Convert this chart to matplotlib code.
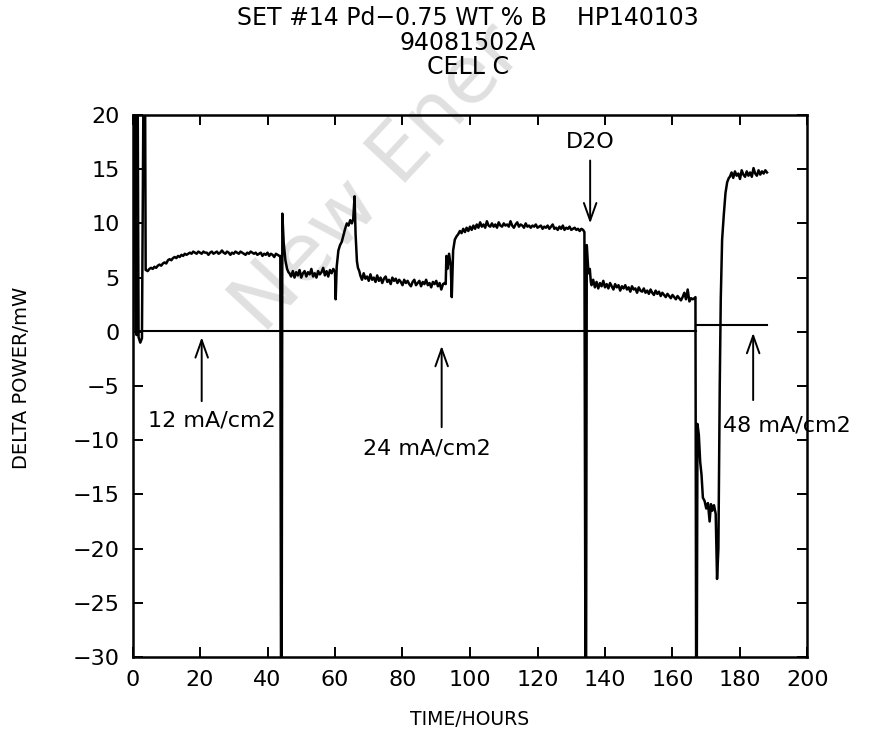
import matplotlib
matplotlib.use("Agg")
import matplotlib.pyplot as plt
import numpy as np

# --- data (hours, mW) ---

# start-up transient
t_start = [0.3, 0.5, 1.0, 1.2, 1.5, 1.8, 2.3, 2.8, 3.3, 3.7, 3.9]
p_start = [0.0, 25.0, 25.0, -0.3, 25.0, -0.5, -1.0, -0.6, 25.0, 25.0, 5.7]

# 12 mA/cm2 plateau, 4 .. 43.5 h every 0.5 h
t_seg1 = np.arange(4.0, 43.51, 0.5)
p_seg1 = [5.7, 5.6, 5.8, 5.9, 5.8, 6.0, 5.9, 6.1, 6.2, 6.1,
          6.3, 6.4, 6.3, 6.6, 6.7, 6.6, 6.8, 6.9, 6.8, 7.0,
          6.9, 7.1, 7.0, 7.2, 7.1, 7.2, 7.3, 7.2, 7.4, 7.3,
          7.2, 7.4, 7.3, 7.2, 7.4, 7.3, 7.3, 7.1, 7.3, 7.4,
          7.2, 7.3, 7.4, 7.2, 7.3, 7.5, 7.3, 7.2, 7.4, 7.3,
          7.1, 7.3, 7.2, 7.4, 7.3, 7.2, 7.4, 7.3, 7.2, 7.1,
          7.3, 7.2, 7.4, 7.3, 7.2, 7.3, 7.1, 7.2, 7.3, 7.0,
          7.2, 7.1, 7.3, 7.0, 7.2, 7.1, 6.9, 7.2, 7.1, 7.0]

# calibration pulse at 44 h
t_pulse1 = [43.8, 44.0, 44.2, 44.4, 44.8, 45.3, 45.8, 46.2]
p_pulse1 = [7.0, -31.0, -31.0, 10.9, 8.2, 6.6, 5.8, 5.5]

t_seg2 = np.arange(46.5, 60.01, 0.5)
p_seg2 = [5.4, 5.1, 5.6, 5.0, 5.5, 5.2, 5.7, 5.0, 5.4, 5.6,
          5.1, 5.5, 5.3, 5.8, 5.1, 5.4, 5.0, 5.6, 5.3, 5.5,
          5.9, 5.2, 5.6, 5.1, 5.7, 5.4, 5.8, 5.5]

# excursion around 60-67 h
t_bump = [60.2, 60.5, 61.0, 61.5, 62.0, 62.5, 63.0, 63.5, 64.0, 64.5,
          65.0, 65.4, 65.8, 66.1, 66.5, 66.8, 67.2]
p_bump = [3.0, 6.0, 7.5, 8.0, 8.3, 8.9, 9.5, 10.0, 9.8, 10.3,
          10.0, 10.4, 12.5, 9.0, 6.5, 5.9, 5.6]

t_seg3 = np.arange(67.5, 92.51, 0.5)
p_seg3 = [5.2, 4.8, 5.4, 4.9, 5.1, 4.7, 5.3, 4.8, 5.0, 4.6,
          5.2, 4.7, 5.0, 4.5, 4.9, 5.1, 4.6, 4.8, 4.4, 5.0,
          4.7, 4.9, 4.5, 4.8, 4.6, 4.3, 4.8, 4.5, 4.7, 4.4,
          4.2, 4.6, 4.8, 4.3, 4.5, 4.7, 4.2, 4.6, 4.4, 4.8,
          4.3, 4.5, 4.1, 4.6, 4.4, 4.7, 4.2, 4.5, 3.9, 4.4,
          4.5]

# switch to 24 mA/cm2
t_step = [92.8, 93.0, 93.3, 93.8, 94.3, 94.6, 95.0, 95.5, 96.0]
p_step = [4.4, 7.0, 5.8, 7.2, 6.0, 3.2, 7.5, 8.5, 8.8]

t_seg4 = np.arange(96.5, 133.51, 0.5)
p_seg4 = [9.0, 9.3, 9.1, 9.5, 9.2, 9.6, 9.3, 9.7, 9.4, 9.8,
          9.5, 9.9, 9.6, 10.1, 9.7, 9.9, 9.6, 10.2, 9.8, 9.7,
          10.0, 9.7, 9.9, 9.6, 10.1, 9.8, 9.7, 10.0, 9.8, 9.9,
          9.7, 10.2, 9.8, 9.6, 9.9, 10.1, 9.7, 9.9, 9.8, 9.6,
          10.0, 9.7, 9.8, 9.6, 9.8, 9.7, 9.9, 9.6, 9.7, 9.8,
          9.5, 9.7, 9.6, 9.8, 9.5, 9.7, 9.9, 9.5, 9.6, 9.4,
          9.7, 9.5, 9.8, 9.4, 9.6, 9.5, 9.7, 9.4, 9.5, 9.6,
          9.4, 9.5, 9.3, 9.5, 9.4]

# D2O addition
t_pulse2 = [133.9, 134.2, 134.4, 134.6, 134.8, 135.1, 135.5, 135.8]
p_pulse2 = [9.2, -31.0, -31.0, 8.0, 7.0, 5.4, 5.8, 4.6]

t_seg5 = np.arange(136.0, 166.51, 0.5)
p_seg5 = [4.3, 4.8, 4.1, 4.6, 4.0, 4.5, 4.2, 4.7, 4.1, 4.4,
          4.0, 4.5, 4.2, 3.9, 4.4, 4.1, 4.3, 3.8, 4.2, 4.0,
          4.3, 3.9, 4.1, 3.7, 4.2, 3.9, 4.0, 3.6, 4.1, 3.8,
          3.7, 4.0, 3.6, 3.8, 3.5, 3.9, 3.6, 3.4, 3.8, 3.5,
          3.7, 3.3, 3.6, 3.4, 3.2, 3.5, 3.3, 3.1, 3.4, 3.2,
          3.0, 3.3, 3.1, 2.9, 3.2, 3.6, 3.0, 3.9, 2.8, 3.1,
          3.0, 3.1]

# 48 mA/cm2: negative excursion and recovery
t_drop = [166.8, 167.0, 167.2, 167.4, 167.8, 168.2, 168.6, 169.0, 169.5, 170.0,
          170.5, 171.0, 171.4, 171.8, 172.3, 172.8, 173.2, 173.6, 174.0, 174.3,
          174.7, 175.2, 175.7, 176.2, 176.7]
p_drop = [3.2, -31.0, -31.0, -8.5, -9.5, -12.0, -13.2, -15.3, -15.6, -16.3,
          -15.8, -17.5, -15.9, -16.5, -16.0, -16.8, -22.8, -20.0, -5.0, 3.0,
          8.5, 10.8, 12.8, 13.8, 14.2]

t_seg6 = np.arange(177.0, 188.01, 0.5)
p_seg6 = [14.3, 14.7, 14.2, 14.8, 14.4, 14.6, 14.1, 14.9, 14.5, 14.3,
          14.8, 14.4, 14.7, 14.3, 15.1, 14.6, 14.4, 14.9, 14.5, 14.8,
          14.6, 14.9, 14.7]

# reference (zero) lines
t_base1 = [1.0, 167.0]
p_base1 = [0.1, 0.1]
t_base2 = [167.0, 188.0]
p_base2 = [0.6, 0.6]

x_ticks = np.arange(0, 201, 20)
y_ticks = np.arange(-30, 21, 5)

title_lines = ["SET #14 Pd\u22120.75 WT % B    HP140103", "94081502A", "CELL C"]

time = np.concatenate([t_start, t_seg1, t_pulse1, t_seg2, t_bump, t_seg3, t_step,
                       t_seg4, t_pulse2, t_seg5, t_drop, t_seg6])
power = np.concatenate([p_start, p_seg1, p_pulse1, p_seg2, p_bump, p_seg3, p_step,
                        p_seg4, p_pulse2, p_seg5, p_drop, p_seg6])

plt.rcParams['font.family'] = 'DejaVu Sans'

fig = plt.figure(figsize=(8.91, 7.38), dpi=100)
ax = fig.add_axes([132.5 / 891, 81 / 738, 675 / 891, 542 / 738])

# watermark of the scan (faint)
ax.text(0.295, 0.545, "New Ener", transform=fig.transFigure, rotation=47,
        rotation_mode='anchor', ha='left', va='baseline', fontsize=58,
        color='#e0e0e0', zorder=0, clip_on=False)

ax.plot(time, power, color='black', linewidth=1.8, zorder=3)
ax.plot(t_base1, p_base1, color='black', linewidth=1.5, zorder=3)
ax.plot(t_base2, p_base2, color='black', linewidth=1.5, zorder=3)

ax.set_xlim(0, 200)
ax.set_ylim(-30, 20)
ax.set_xticks(x_ticks)
ax.set_yticks(y_ticks)
ax.tick_params(direction='in', length=7, width=1.4, top=True, right=True,
               labelsize=16, pad=9)
for sp in ax.spines.values():
    sp.set_linewidth(1.8)

ax.set_xlabel("TIME/HOURS", fontsize=13.5)
ax.set_ylabel("DELTA POWER/mW", fontsize=14)
ax.xaxis.set_label_coords(0.5, -0.098)
ax.yaxis.set_label_coords(-0.150, 0.515)

arrow = dict(arrowstyle='->,head_length=0.7,head_width=0.25', lw=1.4,
             color='black', mutation_scale=18, shrinkA=0, shrinkB=0)
ax.annotate('', xy=(20.5, -0.5), xytext=(20.5, -6.4), arrowprops=arrow)
ax.annotate('', xy=(91.6, -1.3), xytext=(91.6, -8.8), arrowprops=arrow)
ax.annotate('', xy=(135.6, 10.0), xytext=(135.6, 15.8), arrowprops=arrow)
ax.annotate('', xy=(183.9, -0.1), xytext=(183.9, -6.3), arrowprops=arrow)

ax.text(4.6, -8.2, "12 mA/cm2", fontsize=16, ha='left', va='center')
ax.text(68.3, -10.8, "24 mA/cm2", fontsize=16, ha='left', va='center')
ax.text(175.0, -8.6, "48 mA/cm2", fontsize=16, ha='left', va='center', clip_on=False)
ax.text(135.5, 17.5, "D2O", fontsize=16, ha='center', va='center')

for line, yy in zip(title_lines, [18, 43, 67]):
    fig.text(468 / 891, 1 - yy / 738, line, ha='center', va='center', fontsize=17)

fig.savefig("out.png", dpi=100)
